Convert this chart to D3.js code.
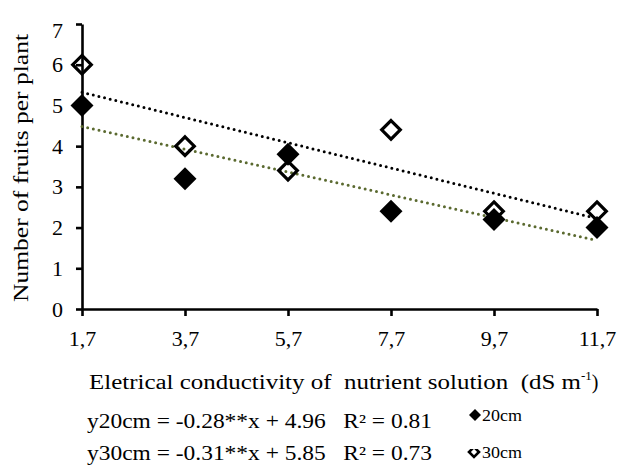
<!DOCTYPE html>
<html>
<head>
<meta charset="utf-8">
<script src="https://cdn.jsdelivr.net/npm/d3@7"></script>
</head>
<body style="margin:0; background:#fff">
<svg id="svg" width="622" height="469"></svg>
<script>
// data
var ec = [1.7, 3.7, 5.7, 7.7, 9.7, 11.7];
var fruits20 = [5.0, 3.2, 3.8, 2.4, 2.2, 2.0];
var fruits30 = [6.0, 4.0, 3.4, 4.4, 2.4, 2.4];
var yTicks = [0, 1, 2, 3, 4, 5, 6, 7];
// trendlines y = a*x + b
var fit20 = [-0.28, 4.96];
var fit30 = [-0.31, 5.85];

var svg = d3.select("#svg");

var x = d3.scaleLinear().domain([1.7, 11.7]).range([82, 597]);
var y = d3.scaleLinear().domain([0, 7]).range([309, 24]);

var comma = function(d) { return d3.format(".1f")(d).replace(".", ","); };

// y axis
var ya = svg.append("g")
    .attr("transform", "translate(" + x(1.7) + ",0)")
    .call(d3.axisLeft(y).tickValues(yTicks).tickFormat(d3.format("d"))
	  .tickSize(6).tickSizeOuter(0).tickPadding(13));
// x axis
var xa = svg.append("g")
    .attr("transform", "translate(0," + y(0) + ")")
    .call(d3.axisBottom(x).tickValues(ec).tickFormat(comma)
	  .tickSize(7).tickSizeOuter(0).tickPadding(14));

[ya, xa].forEach(function(a) {
    a.attr("font-family", null);
    a.select(".domain").attr("stroke", "#000").attr("stroke-width", 2.6);
    a.selectAll(".tick line").attr("stroke", "#000").attr("stroke-width", 2.6);
    a.selectAll(".tick text").attr("fill", "#000").attr("font-size", 22);
});
// top label sits a bit lower in the original
ya.selectAll(".tick text").filter(function(d) { return d == 7; }).attr("y", 6);

// trendlines
function trend(fit, col) {
    svg.append("line")
	.attr("x1", x(1.7)).attr("y1", y(fit[0] * 1.7 + fit[1]))
	.attr("x2", x(11.7)).attr("y2", y(fit[0] * 11.7 + fit[1]))
	.attr("stroke", col)
	.attr("stroke-width", 3)
	.attr("stroke-linecap", "round")
	.attr("stroke-dasharray", "0 5.8");
}
trend(fit30, "#000");
trend(fit20, "#5b6a30");

var diamond = function(r) {
    return "M0," + (-r) + "L" + r + ",0L0," + r + "L" + (-r) + ",0Z";
};

// 30cm: open diamonds
svg.selectAll(".d30").data(ec).enter().append("path")
    .attr("class", "d30")
    .attr("d", diamond(9.3))
    .attr("transform", function(d, i) { return "translate(" + x(d) + "," + y(fruits30[i]) + ")"; })
    .attr("fill", "none")
    .attr("stroke", "#000")
    .attr("stroke-width", 3.2);

// 20cm: filled diamonds
svg.selectAll(".d20").data(ec).enter().append("path")
    .attr("class", "d20")
    .attr("d", diamond(11.5))
    .attr("transform", function(d, i) { return "translate(" + x(d) + "," + y(fruits20[i]) + ")"; })
    .attr("fill", "#000");

// axis titles
svg.append("text")
    .attr("transform", "translate(28,168) rotate(-90)")
    .attr("text-anchor", "middle")
    .attr("font-size", 22)
    .attr("textLength", 268).attr("lengthAdjust", "spacingAndGlyphs")
    .text("Number of fruits per plant");

var xt = svg.append("text")
    .attr("x", 89).attr("y", 389)
    .attr("font-size", 20);
xt.append("tspan").attr("textLength", 492).attr("lengthAdjust", "spacingAndGlyphs")
    .text("Eletrical conductivity of\u00a0 nutrient solution\u00a0 (dS m");
xt.append("tspan").attr("font-size", 13).attr("dy", -9).text("-1");
xt.append("tspan").attr("dy", 9).text(")");

// equations
svg.append("text").attr("x", 87).attr("y", 428).attr("font-size", 20)
    .attr("textLength", 345).attr("lengthAdjust", "spacingAndGlyphs")
    .text("y20cm = -0.28**x + 4.96\u00a0\u00a0 R\u00b2 = 0.81");
svg.append("text").attr("x", 87).attr("y", 460).attr("font-size", 20)
    .attr("textLength", 345).attr("lengthAdjust", "spacingAndGlyphs")
    .text("y30cm = -0.31**x + 5.85\u00a0\u00a0 R\u00b2 = 0.73");

// legend
svg.append("path").attr("d", diamond(6))
    .attr("transform", "translate(475,415)").attr("fill", "#000");
svg.append("text").attr("x", 482).attr("y", 421).attr("font-size", 17)
    .attr("textLength", 40).attr("lengthAdjust", "spacingAndGlyphs").text("20cm");

svg.append("clipPath").attr("id", "lc")
    .append("rect").attr("x", -9).attr("y", -3).attr("width", 16).attr("height", 12);
svg.append("path").attr("d", diamond(5))
    .attr("transform", "translate(474,452)")
    .attr("fill", "none").attr("stroke", "#000").attr("stroke-width", 2.6)
    .attr("clip-path", "url(#lc)");
svg.append("text").attr("x", 482).attr("y", 458).attr("font-size", 17)
    .attr("textLength", 40).attr("lengthAdjust", "spacingAndGlyphs").text("30cm");

svg.selectAll("text").style("font-family", "'Liberation Serif', 'Times New Roman', serif");
</script>
</body>
</html>
